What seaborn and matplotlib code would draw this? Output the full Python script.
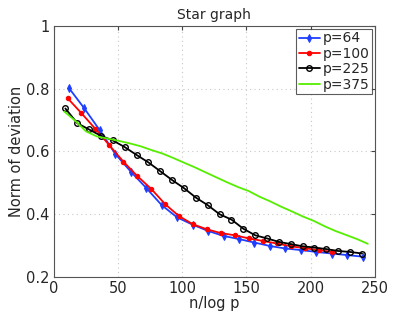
import matplotlib
matplotlib.use("Agg")
import matplotlib.pyplot as plt
import seaborn as sns

# x positions (n/log p) and norm of deviation
x_p64 = [12.0, 24.0, 36.1, 48.1, 60.1, 72.1, 84.2, 96.2, 108.2, 120.2,
         132.3, 144.3, 156.3, 168.3, 180.4, 192.4, 204.4, 216.4, 228.4, 240.5]
y_p64 = [0.802, 0.737, 0.667, 0.592, 0.536, 0.484, 0.429, 0.390, 0.367, 0.347,
         0.331, 0.321, 0.310, 0.299, 0.291, 0.286, 0.280, 0.275, 0.270, 0.265]

x_p100 = [10.9, 21.7, 32.6, 43.4, 54.3, 65.1, 76.0, 86.9, 97.7, 108.6,
          119.4, 130.3, 141.2, 152.0, 162.9, 173.7, 184.6, 195.4, 206.3, 217.1]
y_p100 = [0.770, 0.722, 0.672, 0.620, 0.568, 0.522, 0.481, 0.432, 0.394, 0.368,
          0.352, 0.340, 0.333, 0.323, 0.315, 0.307, 0.298, 0.292, 0.286, 0.280]

x_p225 = [9.2, 18.5, 27.7, 36.9, 46.2, 55.4, 64.6, 73.9, 83.1, 92.3,
          101.6, 110.8, 120.0, 129.3, 138.5, 147.7, 157.0, 166.2, 175.4, 184.7,
          193.9, 203.1, 212.4, 221.6, 230.8, 240.1]
y_p225 = [0.737, 0.690, 0.670, 0.650, 0.635, 0.614, 0.589, 0.565, 0.537, 0.509,
          0.483, 0.453, 0.429, 0.400, 0.383, 0.354, 0.333, 0.323, 0.312, 0.305,
          0.298, 0.294, 0.289, 0.283, 0.280, 0.275]

x_p375 = [8.4, 16.9, 25.3, 33.7, 42.2, 50.6, 59.1, 67.5, 75.9, 84.4,
          92.8, 101.2, 109.7, 118.1, 126.5, 135.0, 143.4, 151.9, 160.3, 168.7,
          177.2, 185.6, 194.0, 202.5, 210.9, 219.3, 227.8, 236.2, 244.6]
y_p375 = [0.727, 0.698, 0.664, 0.648, 0.641, 0.634, 0.626, 0.617, 0.605, 0.594,
          0.580, 0.565, 0.550, 0.534, 0.518, 0.502, 0.487, 0.474, 0.456, 0.441,
          0.424, 0.409, 0.393, 0.379, 0.362, 0.347, 0.334, 0.321, 0.306]

x_ticks = [0, 50, 100, 150, 200, 250]
y_ticks = [0.2, 0.4, 0.6, 0.8, 1.0]
y_tick_labels = ["0.2", "0.4", "0.6", "0.8", "1"]

sns.set_style("white")
plt.rcParams["font.family"] = ["DejaVu Sans"]

fig = plt.figure(figsize=(4.15, 3.12), dpi=100)
ax = fig.add_axes([0.129, 0.112, 0.774, 0.805])

sns.lineplot(x=x_p64, y=y_p64, ax=ax, color="#1f3fff", marker="d", markersize=3.8,
             markeredgecolor="#1f3fff", markerfacecolor="#1f3fff", linewidth=1.3,
             label="p=64", sort=False)
sns.lineplot(x=x_p100, y=y_p100, ax=ax, color="#ff0000", marker="o", markersize=3.2,
             markeredgecolor="#ff0000", markerfacecolor="#ff0000", linewidth=1.3,
             label="p=100", sort=False)
sns.lineplot(x=x_p225, y=y_p225, ax=ax, color="black", marker="o", markersize=4,
             markeredgecolor="black", markerfacecolor="none", markeredgewidth=1.0,
             linewidth=1.3, label="p=225", sort=False)
sns.lineplot(x=x_p375, y=y_p375, ax=ax, color="#55ee00", linewidth=1.3,
             label="p=375", sort=False)

ax.set_xlim(0, 250)
ax.set_ylim(0.2, 1.0)
ax.set_xticks(x_ticks)
ax.set_yticks(y_ticks)
ax.set_yticklabels(y_tick_labels)
ax.grid(True, linestyle=(0, (1, 3)), color="#c8c8c8", linewidth=0.8)
ax.tick_params(direction="in", top=True, right=True, length=3, labelsize=10.5,
               color="#444444", pad=3)
for s in ax.spines.values():
    s.set_color("#555555")
    s.set_linewidth(0.8)

ax.set_title("Star graph", fontsize=10, pad=5)
ax.set_xlabel("n/log p", fontsize=10.5, labelpad=0)
ax.set_ylabel("Norm of deviation", fontsize=10.5, labelpad=1)

leg = ax.legend(loc="upper right", fontsize=10, frameon=True, fancybox=False,
                borderpad=0.2, handlelength=1.5, handletextpad=0.2,
                labelspacing=0.1, borderaxespad=0.2)
leg.get_frame().set_edgecolor("#333333")
leg.get_frame().set_linewidth(0.8)

fig.savefig("out.png", dpi=100)
